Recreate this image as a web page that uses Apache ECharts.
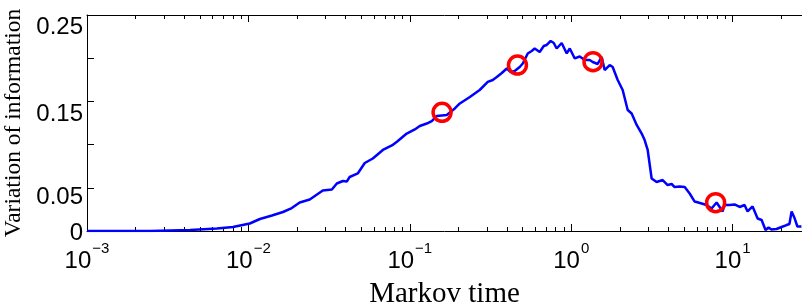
<!DOCTYPE html>
<html style="height: 100%">
<head>
    <meta charset="utf-8">
    <title>Variation of information vs Markov time</title>
    <script src="https://cdn.jsdelivr.net/npm/echarts@6/dist/echarts.min.js"></script>
</head>
<body style="height: 100%; margin: 0; background: #fff">
    <div id="main" style="width: 802px; height: 308px"></div>
    <script type="text/javascript">
        // Markov time (log axis) and variation of information
        var markovTime = [
            0.001, 0.00245, 0.00435, 0.00638, 0.00802, 0.0102, 0.01178, 0.0140, 0.01637, 0.01857,
            0.0208, 0.0240, 0.0289, 0.0329, 0.0353, 0.0385, 0.0407, 0.0424, 0.0476, 0.0526,
            0.0590, 0.0681, 0.0775, 0.0832, 0.0957, 0.1074, 0.1153, 0.1274, 0.1368, 0.1469,
            0.1694, 0.1901, 0.2042, 0.2355, 0.2710, 0.3041, 0.3266, 0.346, 0.3715, 0.399,
            0.4217, 0.4467, 0.4797, 0.5013, 0.538, 0.569, 0.594, 0.638, 0.676, 0.705,
            0.746, 0.780, 0.813, 0.873, 0.938, 0.980, 1.052, 1.129, 1.213, 1.302,
            1.359, 1.459, 1.545, 1.612, 1.731, 1.807, 1.941, 2.084, 2.239, 2.369,
            2.545, 2.733, 2.851, 2.978, 3.150, 3.383, 3.687, 3.959, 4.19, 4.375,
            4.70, 5.05, 5.42, 5.82, 6.43, 6.90, 7.41, 7.96, 8.31, 8.67,
            8.92, 9.58, 10.28, 11.05, 11.86, 12.38, 13.30, 14.29, 15.13, 16.0,
            16.7, 17.4, 18.7, 20.1, 21.6, 22.5, 23.2, 24.2, 25.2, 26.7
        ];
        var variationOfInfo = [
            0, 0, 0.0012, 0.0029, 0.0046, 0.0087, 0.0139, 0.0179, 0.0220, 0.0266,
            0.0330, 0.0365, 0.0469, 0.0480, 0.0550, 0.0579, 0.0573, 0.0625, 0.0666, 0.0787,
            0.0839, 0.0938, 0.0990, 0.1034, 0.1128, 0.1175, 0.1215, 0.1244, 0.1273, 0.1331,
            0.1343, 0.1418, 0.1476, 0.1551, 0.1632, 0.1725, 0.1748, 0.1782, 0.1829, 0.1881,
            0.1840, 0.1852, 0.1898, 0.1939, 0.2055, 0.2083, 0.2112, 0.2072, 0.2141, 0.2153,
            0.2199, 0.2176, 0.2112, 0.2176, 0.2055, 0.2112, 0.1997, 0.2020, 0.1979, 0.1979,
            0.1956, 0.1933, 0.2014, 0.1863, 0.1921, 0.1898, 0.1748, 0.1632, 0.1400, 0.1360,
            0.1227, 0.1128, 0.1053, 0.0938, 0.0608, 0.0567, 0.0590, 0.0532, 0.0544, 0.0509,
            0.0515, 0.0509, 0.0434, 0.0341, 0.0318, 0.0301, 0.0260, 0.0330, 0.0278, 0.0226,
            0.0301, 0.0301, 0.0307, 0.0278, 0.0301, 0.0226, 0.0284, 0.0145, 0.0127, 0.0012,
            0.0041, 0.0017, 0.0023, 0.0046, 0.0069, 0.0081, 0.0226, 0.0150, 0.0052, 0.0052
        ];

        // highlighted Markov times (red circles)
        var markerTime = [0.1585, 0.4645, 1.365, 7.85];
        var markerVI = [0.1374, 0.1921, 0.1959, 0.0328];

        // axis ticks
        var xDecades = [-3, -2, -1, 0, 1];
        var xMinorMultipliers = [2, 3, 4, 5, 6, 7, 8, 9];
        var yLabels = ['0', '0.05', '0.15', '0.25'];

        var xMin = -3, xMax = 1.43;

        function toPoints(ts, vs) {
            return ts.map(function (t, i) { return [Math.log10(t), vs[i]]; });
        }

        var minorTicks = [];
        xDecades.forEach(function (d) {
            xMinorMultipliers.forEach(function (m) {
                var v = d + Math.log10(m);
                if (v < xMax) minorTicks.push(v);
            });
        });

        var tickFont = 'Liberation Sans';

        function xAxisDef(position, ticks, len, showLine, showLabel) {
            return {
                type: 'value',
                position: position,
                min: xMin,
                max: xMax,
                axisLine: { show: showLine, onZero: false, lineStyle: { color: '#000', width: 1 } },
                axisTick: { show: true, inside: true, length: len, customValues: ticks, lineStyle: { color: '#000', width: 1 } },
                axisLabel: showLabel ? {
                    customValues: xDecades,
                    margin: 10,
                    color: '#000',
                    formatter: function (v) {
                        var n = Math.round(v);
                        return '{b|10}{s|' + (n < 0 ? '\u2212' + (-n) : n) + '}';
                    },
                    rich: {
                        b: { fontSize: 24, fontFamily: tickFont, color: '#000' },
                        s: { fontSize: 15, fontFamily: tickFont, color: '#000', padding: [0, 0, 26, 1] }
                    }
                } : { show: false },
                splitLine: { show: false }
            };
        }

        // y tick labels sit a little below their ticks, as in the original figure
        function yLabelRich(pad) {
            return { fontSize: 24, fontFamily: tickFont, color: '#000', padding: [pad, 0, 0, 0] };
        }

        var myChart = echarts.init(document.getElementById('main'), null, { renderer: 'canvas' });

        var option = {
            backgroundColor: '#fff',
            animation: false,
            grid: { left: 87, right: 0, top: 15, bottom: 77, containLabel: false, outerBoundsMode: 'none' },
            xAxis: [
                Object.assign(xAxisDef('bottom', xDecades, 7, true, true), {
                    name: 'Markov time',
                    nameLocation: 'middle',
                    nameGap: 49,
                    nameTextStyle: { fontFamily: 'Liberation Serif', fontSize: 29, color: '#000' }
                }),
                xAxisDef('bottom', minorTicks, 4, false, false),
                xAxisDef('top', xDecades, 7, true, false),
                xAxisDef('top', minorTicks, 4, false, false)
            ],
            yAxis: [{
                type: 'value',
                position: 'left',
                min: 0,
                max: 0.25,
                interval: 0.05,
                name: 'Variation of information',
                nameLocation: 'middle',
                nameGap: 42,
                nameTextStyle: { fontFamily: 'Liberation Serif', fontSize: 23.5, color: '#000' },
                axisLine: { show: true, onZero: false, lineStyle: { color: '#000', width: 1 } },
                axisTick: { show: true, inside: true, length: 7, lineStyle: { color: '#000', width: 1 } },
                axisLabel: {
                    margin: 4,
                    color: '#000',
                    fontSize: 24,
                    fontFamily: tickFont,
                    formatter: function (v) {
                        var s = v.toFixed(2);
                        if (s === '0.00') return '{c|' + yLabels[0] + '}';
                        if (s === '0.05') return '{b|' + yLabels[1] + '}';
                        if (s === '0.15') return '{a|' + yLabels[2] + '}';
                        if (s === '0.25') return '{a|' + yLabels[3] + '}';
                        return '';
                    },
                    rich: {
                        a: yLabelRich(25),
                        b: yLabelRich(19),
                        c: yLabelRich(4)
                    }
                },
                splitLine: { show: false }
            }],
            series: [
                {
                    type: 'line',
                    xAxisIndex: 0,
                    yAxisIndex: 0,
                    data: toPoints(markovTime, variationOfInfo),
                    showSymbol: false,
                    lineStyle: { color: '#0000ff', width: 2.5 },
                    z: 2
                },
                {
                    type: 'scatter',
                    xAxisIndex: 0,
                    yAxisIndex: 0,
                    data: toPoints(markerTime, markerVI),
                    symbol: 'circle',
                    symbolSize: 18,
                    itemStyle: { color: 'rgba(0,0,0,0)', borderColor: '#ff0000', borderWidth: 3.5, opacity: 1 },
                    z: 3
                }
            ]
        };

        myChart.setOption(option);
    </script>
</body>
</html>
